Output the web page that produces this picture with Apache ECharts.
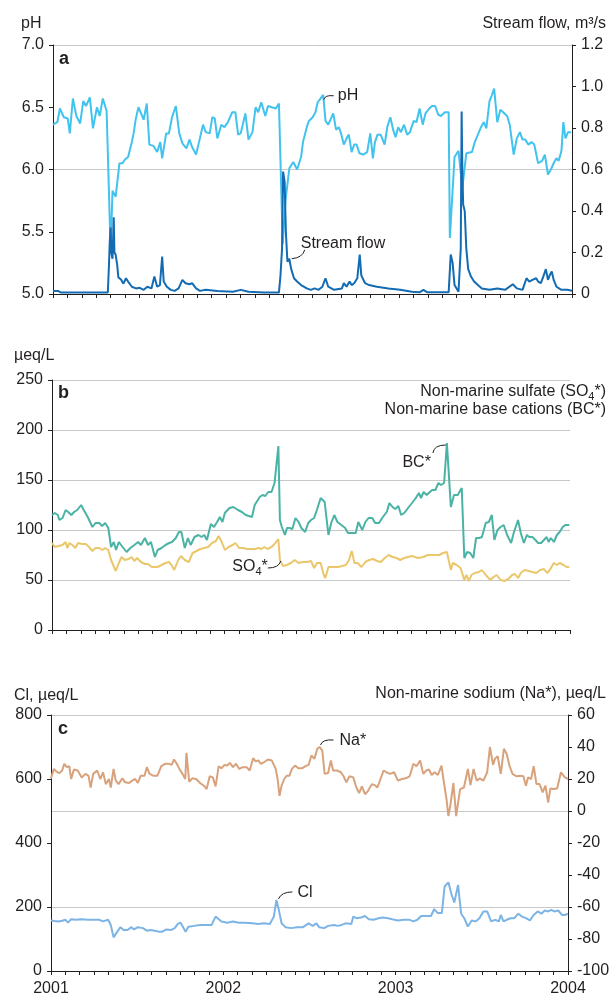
<!DOCTYPE html>
<html><head><meta charset="utf-8">
<script src="https://cdn.jsdelivr.net/npm/echarts@6/dist/echarts.min.js"></script>
<style>html,body{margin:0;padding:0;background:#fff}#c{width:609px;height:998px}</style>
</head><body><div id="c"></div>
<script>
const FONT = '"Liberation Sans", Arial, Helvetica, sans-serif';
const TXT = '#231f20';
const GRIDC = '#c8c8c8';
const yearTicks = ['2001', '2002', '2003', '2004'];

// x values are decimal years
const phData = [
[2001.000,6.36],[2001.025,6.38],[2001.040,6.49],[2001.063,6.42],[2001.085,6.41],[2001.097,6.29],[2001.115,6.57],[2001.135,6.43],[2001.157,6.37],[2001.175,6.55],[2001.191,6.51],[2001.213,6.58],[2001.231,6.33],[2001.254,6.50],[2001.270,6.43],[2001.288,6.57],[2001.310,6.47],[2001.333,5.35],[2001.344,5.83],[2001.362,5.78],[2001.384,6.05],[2001.402,6.05],[2001.416,6.08],[2001.434,6.10],[2001.456,6.22],[2001.467,6.30],[2001.479,6.41],[2001.494,6.50],[2001.524,6.40],[2001.542,6.53],[2001.557,6.20],[2001.580,6.19],[2001.602,6.14],[2001.620,6.22],[2001.631,6.09],[2001.654,6.29],[2001.670,6.29],[2001.688,6.42],[2001.710,6.51],[2001.730,6.29],[2001.748,6.21],[2001.771,6.17],[2001.789,6.24],[2001.804,6.18],[2001.827,6.12],[2001.849,6.25],[2001.867,6.36],[2001.883,6.30],[2001.906,6.29],[2001.921,6.42],[2001.935,6.41],[2001.950,6.25],[2001.973,6.36],[2001.991,6.34],
[2002.011,6.38],[2002.036,6.46],[2002.054,6.46],[2002.070,6.28],[2002.085,6.29],[2002.112,6.45],[2002.130,6.24],[2002.153,6.30],[2002.171,6.50],[2002.186,6.46],[2002.204,6.54],[2002.227,6.43],[2002.243,6.51],[2002.265,6.50],[2002.288,6.49],[2002.306,6.53],[2002.328,5.40],[2002.344,5.75],[2002.366,6.01],[2002.389,6.06],[2002.411,6.00],[2002.434,6.10],[2002.445,6.22],[2002.467,6.34],[2002.479,6.39],[2002.501,6.42],[2002.517,6.46],[2002.530,6.54],[2002.546,6.57],[2002.562,6.60],[2002.575,6.39],[2002.591,6.36],[2002.607,6.41],[2002.620,6.45],[2002.636,6.32],[2002.652,6.34],[2002.665,6.29],[2002.681,6.20],[2002.697,6.25],[2002.710,6.28],[2002.726,6.14],[2002.741,6.20],[2002.755,6.20],[2002.771,6.13],[2002.793,6.12],[2002.816,6.14],[2002.834,6.29],[2002.849,6.09],[2002.861,6.22],[2002.876,6.28],[2002.894,6.28],[2002.917,6.20],[2002.932,6.34],[2002.950,6.42],[2002.966,6.32],[2002.980,6.26],[2002.995,6.34],
[2003.011,6.30],[2003.029,6.36],[2003.047,6.28],[2003.063,6.30],[2003.085,6.39],[2003.101,6.38],[2003.119,6.49],[2003.137,6.36],[2003.153,6.45],[2003.175,6.49],[2003.191,6.51],[2003.209,6.51],[2003.227,6.44],[2003.243,6.43],[2003.265,6.46],[2003.287,6.46],[2003.294,5.45],[2003.321,6.10],[2003.344,6.15],[2003.366,5.85],[2003.389,6.13],[2003.422,6.14],[2003.438,6.22],[2003.456,6.28],[2003.474,6.34],[2003.490,6.38],[2003.505,6.33],[2003.523,6.55],[2003.535,6.59],[2003.550,6.65],[2003.568,6.38],[2003.586,6.48],[2003.602,6.46],[2003.625,6.43],[2003.640,6.36],[2003.663,6.12],[2003.681,6.25],[2003.699,6.30],[2003.714,6.24],[2003.730,6.24],[2003.748,6.20],[2003.766,6.22],[2003.782,6.20],[2003.804,6.05],[2003.827,6.07],[2003.843,6.12],[2003.861,5.96],[2003.878,6.00],[2003.894,6.05],[2003.910,6.09],[2003.923,6.07],[2003.939,6.15],[2003.950,6.38],[2003.962,6.25],[2003.977,6.30],[2003.995,6.30]
];

const flowData = [
[2001.000,0.015],[2001.029,0.015],[2001.047,0.007],[2001.317,0.007],[2001.324,0.15],[2001.328,0.25],[2001.333,0.32],[2001.337,0.20],[2001.344,0.17],[2001.351,0.37],[2001.355,0.20],[2001.362,0.19],[2001.371,0.14],[2001.378,0.08],[2001.393,0.07],[2001.407,0.05],[2001.422,0.076],[2001.434,0.06],[2001.456,0.035],[2001.479,0.027],[2001.501,0.03],[2001.524,0.02],[2001.546,0.035],[2001.569,0.027],[2001.586,0.084],[2001.602,0.035],[2001.618,0.043],[2001.631,0.18],[2001.640,0.06],[2001.658,0.035],[2001.681,0.02],[2001.703,0.015],[2001.726,0.027],[2001.748,0.068],[2001.766,0.052],[2001.789,0.047],[2001.804,0.052],[2001.827,0.027],[2001.849,0.015],[2001.883,0.02],[2001.950,0.015],
[2002.040,0.011],[2002.085,0.02],[2002.130,0.011],[2002.220,0.007],[2002.306,0.007],[2002.315,0.09],[2002.324,0.22],[2002.330,0.59],[2002.339,0.54],[2002.346,0.30],[2002.355,0.156],[2002.366,0.17],[2002.377,0.12],[2002.393,0.076],[2002.411,0.06],[2002.434,0.043],[2002.467,0.027],[2002.490,0.02],[2002.512,0.027],[2002.535,0.02],[2002.557,0.035],[2002.575,0.076],[2002.591,0.035],[2002.625,0.02],[2002.670,0.027],[2002.681,0.052],[2002.697,0.035],[2002.714,0.06],[2002.726,0.043],[2002.741,0.052],[2002.759,0.076],[2002.773,0.19],[2002.782,0.09],[2002.804,0.052],[2002.827,0.043],[2002.872,0.035],[2002.939,0.027],
[2003.007,0.02],[2003.074,0.011],[2003.119,0.008],[2003.141,0.02],[2003.164,0.008],[2003.287,0.008],[2003.299,0.19],[2003.310,0.15],[2003.321,0.043],[2003.344,0.011],[2003.357,0.22],[2003.362,0.88],[2003.366,0.60],[2003.371,0.43],[2003.380,0.40],[2003.389,0.22],[2003.400,0.12],[2003.416,0.084],[2003.434,0.06],[2003.456,0.043],[2003.479,0.027],[2003.523,0.02],[2003.568,0.027],[2003.613,0.02],[2003.658,0.047],[2003.681,0.027],[2003.714,0.02],[2003.737,0.076],[2003.753,0.06],[2003.771,0.068],[2003.793,0.076],[2003.804,0.06],[2003.820,0.052],[2003.834,0.084],[2003.849,0.12],[2003.861,0.068],[2003.872,0.092],[2003.883,0.108],[2003.894,0.068],[2003.910,0.035],[2003.939,0.02],[2003.973,0.02],[2004.000,0.016]
];

const bcData = [
[2001.000,115],[2001.016,117],[2001.034,115],[2001.043,110],[2001.061,112],[2001.079,120],[2001.094,118],[2001.112,115],[2001.128,118],[2001.146,120],[2001.169,125],[2001.184,120],[2001.207,113],[2001.234,103],[2001.252,107],[2001.274,107],[2001.290,104],[2001.308,107],[2001.326,102],[2001.342,83],[2001.358,88],[2001.371,80],[2001.387,88],[2001.409,83],[2001.432,78],[2001.454,82],[2001.477,85],[2001.499,88],[2001.515,85],[2001.538,92],[2001.556,85],[2001.573,88],[2001.596,73],[2001.612,80],[2001.634,82],[2001.657,85],[2001.679,87],[2001.695,88],[2001.717,92],[2001.735,98],[2001.749,98],[2001.769,82],[2001.787,92],[2001.803,85],[2001.825,93],[2001.848,95],[2001.866,93],[2001.882,95],[2001.897,90],[2001.920,106],[2001.938,103],[2001.956,108],[2001.972,113],[2001.987,108],
[2002.001,117],[2002.028,122],[2002.050,123],[2002.077,120],[2002.100,118],[2002.122,115],[2002.140,114],[2002.158,113],[2002.174,125],[2002.185,125],[2002.203,133],[2002.219,135],[2002.235,134],[2002.253,138],[2002.271,138],[2002.289,147],[2002.311,184],[2002.320,110],[2002.331,103],[2002.349,95],[2002.361,102],[2002.376,102],[2002.392,101],[2002.410,112],[2002.428,108],[2002.444,102],[2002.466,98],[2002.484,107],[2002.500,110],[2002.518,112],[2002.534,120],[2002.556,132],[2002.579,128],[2002.601,95],[2002.617,107],[2002.635,115],[2002.653,108],[2002.676,105],[2002.698,102],[2002.714,97],[2002.736,97],[2002.759,97],[2002.774,108],[2002.797,100],[2002.815,108],[2002.833,112],[2002.855,112],[2002.871,107],[2002.894,107],[2002.916,113],[2002.939,118],[2002.954,127],[2002.972,123],[2002.988,121],
[2003.006,124],[2003.022,115],[2003.040,117],[2003.062,122],[2003.085,127],[2003.107,132],[2003.125,137],[2003.137,132],[2003.152,138],[2003.170,135],[2003.188,138],[2003.202,140],[2003.220,140],[2003.238,147],[2003.253,145],[2003.271,147],[2003.287,187],[2003.310,123],[2003.328,135],[2003.350,135],[2003.373,142],[2003.388,72],[2003.404,78],[2003.422,77],[2003.440,72],[2003.456,92],[2003.474,92],[2003.490,93],[2003.512,107],[2003.530,108],[2003.547,115],[2003.562,90],[2003.580,100],[2003.598,103],[2003.616,105],[2003.636,95],[2003.659,87],[2003.674,97],[2003.699,110],[2003.715,97],[2003.733,87],[2003.750,95],[2003.764,93],[2003.782,93],[2003.800,90],[2003.815,87],[2003.833,87],[2003.849,90],[2003.865,93],[2003.876,88],[2003.889,92],[2003.907,88],[2003.924,95],[2003.940,98],[2003.958,103],[2003.973,105],[2003.996,105]
];

const so4Data = [
[2001.000,87],[2001.016,83],[2001.038,84],[2001.061,85],[2001.079,88],[2001.088,82],[2001.101,87],[2001.117,85],[2001.135,82],[2001.151,87],[2001.173,86],[2001.196,86],[2001.214,83],[2001.234,79],[2001.252,82],[2001.274,82],[2001.292,80],[2001.308,82],[2001.326,80],[2001.342,70],[2001.369,59],[2001.387,67],[2001.403,73],[2001.421,70],[2001.443,71],[2001.461,73],[2001.477,69],[2001.493,72],[2001.515,68],[2001.538,66],[2001.556,66],[2001.578,63],[2001.612,63],[2001.634,65],[2001.657,67],[2001.679,68],[2001.695,64],[2001.708,60],[2001.731,70],[2001.747,74],[2001.769,70],[2001.792,68],[2001.814,77],[2001.837,79],[2001.859,81],[2001.882,82],[2001.904,83],[2001.927,87],[2001.949,89],[2001.965,94],[2001.983,88],
[2002.001,80],[2002.023,83],[2002.046,85],[2002.062,87],[2002.084,82],[2002.107,82],[2002.129,81],[2002.151,81],[2002.174,81],[2002.196,82],[2002.212,81],[2002.230,83],[2002.248,81],[2002.271,83],[2002.289,86],[2002.311,91],[2002.320,70],[2002.338,64],[2002.361,65],[2002.383,67],[2002.406,70],[2002.428,67],[2002.451,68],[2002.478,68],[2002.500,69],[2002.518,62],[2002.534,67],[2002.556,67],[2002.574,55],[2002.583,52],[2002.601,63],[2002.624,63],[2002.640,63],[2002.657,63],[2002.680,64],[2002.702,65],[2002.720,70],[2002.736,79],[2002.752,67],[2002.770,67],[2002.792,63],[2002.815,68],[2002.837,70],[2002.860,71],[2002.882,69],[2002.905,68],[2002.927,72],[2002.950,75],[2002.972,73],[2002.995,72],
[2003.017,70],[2003.040,72],[2003.062,73],[2003.085,74],[2003.119,72],[2003.152,73],[2003.175,75],[2003.209,75],[2003.242,75],[2003.265,77],[2003.287,78],[2003.310,60],[2003.321,67],[2003.343,65],[2003.366,62],[2003.388,50],[2003.400,55],[2003.415,49],[2003.429,55],[2003.449,57],[2003.472,58],[2003.490,60],[2003.512,55],[2003.539,50],[2003.557,53],[2003.575,55],[2003.598,50],[2003.620,49],[2003.643,51],[2003.665,55],[2003.681,56],[2003.699,52],[2003.715,57],[2003.737,60],[2003.760,59],[2003.782,58],[2003.805,57],[2003.827,60],[2003.849,61],[2003.867,57],[2003.883,60],[2003.906,67],[2003.924,65],[2003.940,67],[2003.962,65],[2003.980,63],[2003.996,63]
];

const naData = [
[2001.000,20.4],[2001.016,26.3],[2001.032,24.6],[2001.047,23.6],[2001.065,25.3],[2001.077,29.5],[2001.092,27.4],[2001.106,28],[2001.117,20],[2001.133,25.9],[2001.155,25.3],[2001.178,21],[2001.200,23.2],[2001.218,22],[2001.230,14.7],[2001.245,23.2],[2001.268,25.3],[2001.286,20],[2001.302,24.2],[2001.318,16.8],[2001.336,20],[2001.347,14.7],[2001.363,26.3],[2001.376,19],[2001.392,16.8],[2001.414,20.4],[2001.430,17.9],[2001.453,17.5],[2001.471,19],[2001.489,20],[2001.504,17.5],[2001.520,22],[2001.543,22],[2001.556,27.4],[2001.572,23.2],[2001.595,22],[2001.617,22],[2001.640,28],[2001.662,29.5],[2001.685,29.5],[2001.700,28.8],[2001.714,32.2],[2001.730,29.5],[2001.745,26.3],[2001.763,23.2],[2001.779,20],[2001.786,36.4],[2001.802,18.3],[2001.820,20.4],[2001.842,20],[2001.865,17.5],[2001.887,15.8],[2001.903,13.7],[2001.921,21.7],[2001.939,21],[2001.955,15.4],[2001.973,28],[2001.989,26.7],
[2002.007,28.8],[2002.022,28.4],[2002.038,30.1],[2002.056,27.4],[2002.074,29.5],[2002.092,26.3],[2002.112,27.4],[2002.135,27.4],[2002.153,25.3],[2002.173,33],[2002.187,31],[2002.203,31.6],[2002.218,29.5],[2002.236,30.5],[2002.259,32.2],[2002.281,31.6],[2002.304,26.3],[2002.315,20],[2002.326,9.5],[2002.338,15.8],[2002.353,20],[2002.367,22],[2002.383,22],[2002.398,26.3],[2002.416,28.4],[2002.435,26.7],[2002.457,26.7],[2002.477,28],[2002.495,28.8],[2002.511,34.7],[2002.529,32.6],[2002.545,38.9],[2002.558,40],[2002.574,37.9],[2002.588,23.2],[2002.608,23.8],[2002.624,31.6],[2002.637,25.3],[2002.660,25.3],[2002.682,24.2],[2002.698,21.7],[2002.714,17.9],[2002.732,21.7],[2002.754,21],[2002.772,14.7],[2002.788,11.2],[2002.804,15.4],[2002.822,10.5],[2002.840,12.6],[2002.862,16.8],[2002.878,16.2],[2002.894,14.7],[2002.912,20],[2002.930,25.3],[2002.946,24.2],[2002.968,23.2],[2002.991,24.2],
[2003.013,19],[2003.036,20],[2003.058,20.4],[2003.081,21.7],[2003.103,29.5],[2003.121,28],[2003.142,31.6],[2003.160,23.2],[2003.178,25.3],[2003.193,25.9],[2003.209,22.5],[2003.227,24.2],[2003.245,22.5],[2003.266,28.4],[2003.277,20],[2003.295,7.4],[2003.306,-3.2],[2003.317,3.2],[2003.335,17.5],[2003.351,-3.2],[2003.362,-4.2],[2003.374,13.7],[2003.396,14.7],[2003.419,26.3],[2003.434,16.2],[2003.452,26.3],[2003.470,19],[2003.488,20.4],[2003.509,19],[2003.531,24.2],[2003.547,40],[2003.565,28.8],[2003.576,32.6],[2003.592,34.3],[2003.610,23.2],[2003.628,38.9],[2003.644,35.8],[2003.660,28.4],[2003.678,23.2],[2003.700,21.7],[2003.723,22],[2003.741,21.7],[2003.756,15.8],[2003.768,21],[2003.786,20],[2003.801,28],[2003.817,16.8],[2003.835,16.8],[2003.853,11.6],[2003.869,15.8],[2003.885,5.3],[2003.898,14.1],[2003.914,13.7],[2003.937,14.1],[2003.959,24.2],[2003.982,21],[2004.000,20]
];

const clData = [
[2001.000,158],[2001.020,156],[2001.043,155],[2001.065,157],[2001.083,160],[2001.099,151],[2001.117,162],[2001.144,160],[2001.178,162],[2001.212,160],[2001.245,160],[2001.279,160],[2001.302,155],[2001.313,151],[2001.331,160],[2001.347,144],[2001.363,105],[2001.381,120],[2001.403,137],[2001.421,128],[2001.444,128],[2001.466,137],[2001.482,130],[2001.504,137],[2001.534,134],[2001.556,126],[2001.579,128],[2001.601,126],[2001.624,123],[2001.646,123],[2001.669,130],[2001.696,128],[2001.718,134],[2001.736,147],[2001.752,151],[2001.781,123],[2001.797,138],[2001.831,141],[2001.865,144],[2001.894,144],[2001.932,144],[2001.955,170],[2001.966,172],[2001.989,155],
[2002.022,151],[2002.056,155],[2002.090,151],[2002.124,151],[2002.169,149],[2002.203,147],[2002.236,149],[2002.270,147],[2002.293,170],[2002.308,222],[2002.322,191],[2002.338,149],[2002.360,137],[2002.394,134],[2002.428,137],[2002.462,137],[2002.495,149],[2002.518,141],[2002.540,149],[2002.556,137],[2002.585,134],[2002.608,141],[2002.642,144],[2002.664,141],[2002.687,144],[2002.709,149],[2002.743,147],[2002.754,170],[2002.772,165],[2002.799,167],[2002.822,172],[2002.844,162],[2002.871,160],[2002.901,165],[2002.923,167],[2002.957,165],[2002.979,162],
[2003.013,158],[2003.047,160],[2003.081,160],[2003.103,155],[2003.126,160],[2003.148,172],[2003.182,172],[2003.205,172],[2003.223,193],[2003.245,181],[2003.268,181],[2003.284,264],[2003.306,277],[2003.322,243],[2003.340,214],[2003.362,269],[2003.380,179],[2003.398,165],[2003.419,139],[2003.441,158],[2003.464,155],[2003.486,165],[2003.509,186],[2003.531,186],[2003.554,155],[2003.576,160],[2003.599,155],[2003.610,175],[2003.626,155],[2003.644,160],[2003.667,165],[2003.689,165],[2003.711,179],[2003.734,170],[2003.756,165],[2003.779,158],[2003.801,175],[2003.824,186],[2003.846,179],[2003.865,189],[2003.885,186],[2003.903,191],[2003.921,186],[2003.943,189],[2003.966,175],[2003.982,175],[2004.000,179]
];

const chart = echarts.init(document.getElementById('c'), null, {renderer: 'canvas'});

const lblBase = {fontSize: 16, color: TXT, fontFamily: FONT};
const axLine = {show: true, onZero: false, lineStyle: {color: TXT, width: 1}};
const tick = {show: true, length: 4, lineStyle: {color: TXT, width: 1}};

function xAx(gi, showLabel) {
  return {
    type: 'value', gridIndex: gi, min: 2001, max: 2004, interval: 1,
    axisLine: axLine, axisTick: tick,
    minorTick: {show: true, splitNumber: 12, length: 4, lineStyle: {color: TXT, width: 1}},
    splitLine: {show: false}, minorSplitLine: {show: false},
    axisLabel: Object.assign({show: showLabel, margin: 10, formatter: v => yearTicks[Math.round(v - 2001)]}, lblBase)
  };
}
function yAx(gi, pos, min, max, interval, fmt, split) {
  return {
    type: 'value', gridIndex: gi, position: pos, min, max, interval,
    axisLine: axLine, axisTick: tick,
    splitLine: {show: !!split, lineStyle: {color: GRIDC, width: 1}},
    axisLabel: Object.assign({margin: 9, formatter: fmt}, lblBase)
  };
}
function hiddenY(gi, min, max, interval, inverse) {
  return {
    type: 'value', gridIndex: gi, position: 'left', min, max, interval, inverse: !!inverse,
    axisLine: {show: false}, axisTick: {show: false}, axisLabel: {show: false},
    splitLine: {show: true, lineStyle: {color: GRIDC, width: 1}}
  };
}
function lineS(name, data, xi, yi, color, z) {
  return {name, type: 'line', data, xAxisIndex: xi, yAxisIndex: yi, showSymbol: false, symbol: 'none',
    lineStyle: {color, width: 2}, itemStyle: {color}, z: z || 2, silent: true};
}

const option = {
  animation: false,
  backgroundColor: '#fff',
  grid: [
    {left: 53, top: 45, width: 519, height: 249, containLabel: false, outerBoundsMode: 'none'},
    {left: 52, top: 380, width: 518, height: 250, containLabel: false, outerBoundsMode: 'none'},
    {left: 51, top: 715, width: 517, height: 256, containLabel: false, outerBoundsMode: 'none'}
  ],
  xAxis: [xAx(0, false), xAx(1, false), xAx(2, true)],
  yAxis: [
    yAx(0, 'left', 5, 7, 0.5, v => v.toFixed(1), false),
    yAx(0, 'right', 0, 1.2, 0.2, v => (Math.abs(v) < 1e-9 ? '0' : v.toFixed(1)), false),
    hiddenY(0, 5, 7, 1),
    yAx(1, 'left', 0, 250, 50, v => String(v), true),
    yAx(2, 'left', 0, 800, 200, v => String(v), false),
    yAx(2, 'right', -100, 60, 20, v => String(v), false),
    hiddenY(2, 0, 160, 60, true)
  ],
  series: [
    lineS('pH', phData, 0, 0, '#41c3ee', 2),
    lineS('Stream flow', flowData, 0, 1, '#136cb3', 3),
    lineS('BC*', bcData, 1, 3, '#4ab3a4', 2),
    lineS('SO4*', so4Data, 1, 3, '#ebc76c', 3),
    lineS('Na*', naData, 2, 5, '#d8a27c', 2),
    lineS('Cl', clData, 2, 4, '#7db4e6', 2)
  ]
};
chart.setOption(option);

function txt(x, y, text, align, extra) {
  return {type: 'text', x, y, silent: true, z: 100,
    style: Object.assign({text, fontSize: 16, fontFamily: FONT, fill: TXT, align: align || 'left', verticalAlign: 'middle'}, extra || {})};
}
const richSO4 = {
  a: {fontSize: 16, fontFamily: FONT, fill: TXT, lineHeight: 20},
  s: {fontSize: 11, fontFamily: FONT, fill: TXT, lineHeight: 11, verticalAlign: 'bottom'}
};

const graphics = [
  txt(21, 24, 'pH', 'left'),
  txt(606, 24, 'Stream flow, m³/s', 'right'),
  txt(59, 59, 'a', 'left', {fontWeight: 'bold', fontSize: 18}),
  txt(14, 356, 'µeq/L', 'left'),
  txt(58, 393, 'b', 'left', {fontWeight: 'bold', fontSize: 18}),
  txt(606, 392, '{a|Non-marine sulfate (SO}{s|4}{a|*)}', 'right', {rich: richSO4}),
  txt(606, 410, 'Non-marine base cations (BC*)', 'right'),
  txt(14, 696, 'Cl, µeq/L', 'left'),
  txt(606, 694, 'Non-marine sodium (Na*), µeq/L', 'right'),
  txt(58, 729, 'c', 'left', {fontWeight: 'bold', fontSize: 18})
];

// annotations anchored at data points: leader offsets [x1,y1,cpx,cpy,x2,y2], text offset
const annotations = [
  {xi: 0, yi: 0, pt: [2002.565, 6.56], leader: [0, 0, 1, -5, 10, -4], text: 'pH', tx: 14, ty: -4, align: 'left'},
  {xi: 0, yi: 1, pt: [2002.38, 0.17], leader: [0, 0, 11, -1, 13, -9], text: 'Stream flow', tx: 9, ty: -15, align: 'left'},
  {xi: 1, yi: 3, pt: [2003.287, 187], leader: [-14, 10, -13, 2, -1, 2], text: 'BC*', tx: -16, ty: 20, align: 'right'},
  {xi: 1, yi: 3, pt: [2002.325, 70], leader: [-13, 8, -2, 8, 0, 1], text: '{a|SO}{s|4}{a|*}', tx: -13, ty: 7, align: 'right', rich: true},
  {xi: 2, yi: 5, pt: [2002.558, 40], leader: [1, -2, 3, -8, 14, -7], text: 'Na*', tx: 20, ty: -6, align: 'left'},
  {xi: 2, yi: 4, pt: [2002.308, 222], leader: [2, -1, 5, -8, 16, -8], text: 'Cl', tx: 21, ty: -7, align: 'left'}
];
annotations.forEach(a => {
  const p = chart.convertToPixel({xAxisIndex: a.xi, yAxisIndex: a.yi}, a.pt);
  const L = a.leader;
  graphics.push({type: 'bezierCurve', silent: true, z: 100,
    shape: {x1: p[0] + L[0], y1: p[1] + L[1], cpx1: p[0] + L[2], cpy1: p[1] + L[3], x2: p[0] + L[4], y2: p[1] + L[5]},
    style: {stroke: TXT, lineWidth: 1, fill: null}});
  graphics.push(txt(p[0] + a.tx, p[1] + a.ty, a.text, a.align, a.rich ? {rich: richSO4} : {}));
});
chart.setOption({graphic: graphics});
</script>
</body></html>
